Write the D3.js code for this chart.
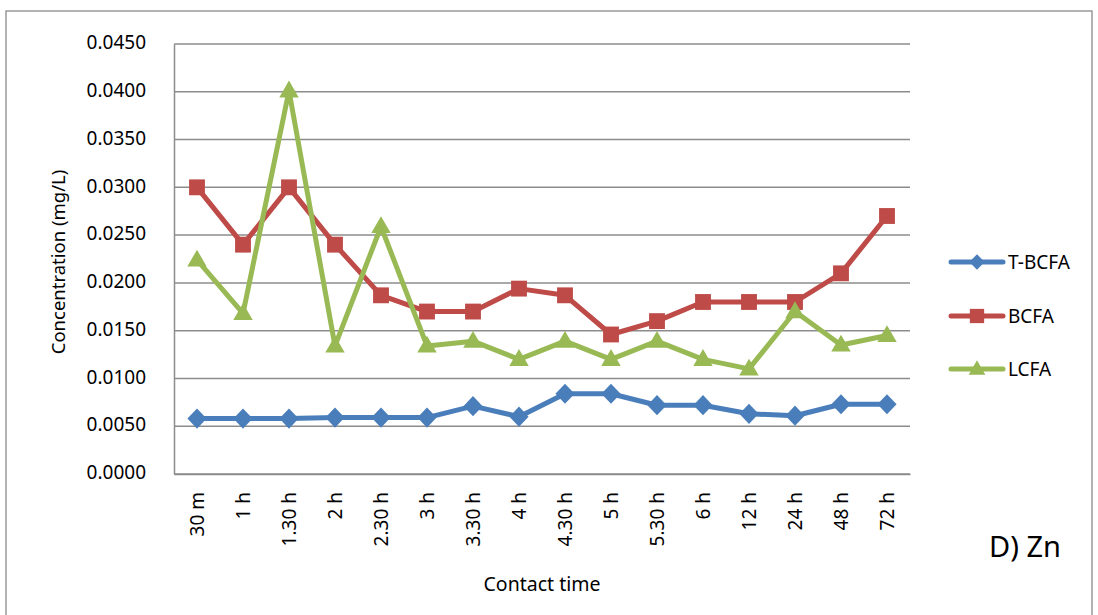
<!DOCTYPE html>
<html>
<head>
<meta charset="utf-8">
<script src="https://cdn.jsdelivr.net/npm/d3@7"></script>
<style>
  html, body { margin: 0; padding: 0; background: #fff; }
  svg { display: block; font-family: "Noto Sans", sans-serif; }
</style>
</head>
<body>
<svg id="chart" width="1098" height="615"></svg>
<script>
const categories = ["30 m","1 h","1.30 h","2 h","2.30 h","3 h","3.30 h","4 h","4.30 h","5 h","5.30 h","6 h","12 h","24 h","48 h","72 h"];
const tbcfa = [0.0058,0.0058,0.0058,0.0059,0.0059,0.0059,0.0071,0.0060,0.0084,0.0084,0.0072,0.0072,0.0063,0.0061,0.0073,0.0073];
const bcfa  = [0.0300,0.0240,0.0300,0.0240,0.0187,0.0170,0.0170,0.0194,0.0187,0.0146,0.0160,0.0180,0.0180,0.0180,0.0210,0.0270];
const lcfa  = [0.0224,0.0168,0.0401,0.0134,0.0259,0.0134,0.0139,0.0120,0.0139,0.0120,0.0139,0.0120,0.0110,0.0170,0.0135,0.0145];
const yTicks = [0,0.005,0.01,0.015,0.02,0.025,0.03,0.035,0.04,0.045];
const seriesNames = ["T-BCFA","BCFA","LCFA"];

const series = [
  {name: seriesNames[0], values: tbcfa, color: "#4A7EBB", shape: "diamond"},
  {name: seriesNames[1], values: bcfa,  color: "#BE4B48", shape: "square"},
  {name: seriesNames[2], values: lcfa,  color: "#98B954", shape: "triangle"}
];

const svg = d3.select("#chart");
const mLeft = 174, mRight = 910, mTop = 44, mBottom = 474;

// outer border
svg.append("rect").attr("x", 6).attr("y", 11).attr("width", 1086).attr("height", 620)
  .attr("fill", "none").attr("stroke", "#8a8a8a").attr("stroke-width", 1.3);

const x = d3.scalePoint().domain(categories).range([mLeft, mRight]).padding(0.5);
const y = d3.scaleLinear().domain([0, 0.045]).range([mBottom, mTop]);

// gridlines
svg.append("g").selectAll("line").data(yTicks).join("line")
  .attr("x1", mLeft).attr("x2", mRight)
  .attr("y1", d => y(d)).attr("y2", d => y(d))
  .attr("stroke", "#8c8c8c").attr("stroke-width", 1.5);

// y axis
const yAxis = svg.append("g").attr("transform", `translate(${mLeft},0)`)
  .call(d3.axisLeft(y).tickValues(yTicks).tickFormat(d3.format(".4f")).tickSize(0).tickPadding(28));
yAxis.select(".domain").attr("stroke", "#8c8c8c").attr("stroke-width", 1.5);
yAxis.selectAll("text").attr("font-size", 19).attr("font-family", "Noto Sans").attr("fill", "#000").attr("dy", "0.25em");

// x axis
const xAxis = svg.append("g").attr("transform", `translate(0,${mBottom})`)
  .call(d3.axisBottom(x).tickSize(0));
xAxis.select(".domain").attr("stroke", "#8c8c8c").attr("stroke-width", 1.5);
xAxis.selectAll("text")
  .attr("font-size", 19).attr("font-family", "Noto Sans").attr("fill", "#000")
  .attr("text-anchor", "end")
  .attr("transform", "rotate(-90)")
  .attr("x", -18).attr("y", 0).attr("dy", "0.35em");

// lines and markers
const line = d3.line().x((d, i) => x(categories[i])).y(d => y(d));
const symbolFor = {
  diamond: d3.symbol().type(d3.symbolDiamond2).size(260),
  square: d3.symbol().type(d3.symbolSquare2).size(320),
  triangle: d3.symbol().type(d3.symbolTriangle2).size(270)
};

series.forEach(s => {
  const g = svg.append("g");
  g.append("path").datum(s.values).attr("d", line)
    .attr("fill", "none").attr("stroke", s.color).attr("stroke-width", 5)
    .attr("stroke-linejoin", "round").attr("stroke-linecap", "round");
  g.selectAll("path.m").data(s.values).join("path").attr("class", "m")
    .attr("d", symbolFor[s.shape])
    .attr("transform", (d, i) => {
      const cx = x(categories[i]), cy = y(d);
      if (s.shape === "diamond") return `translate(${cx},${cy}) scale(0.95,1)`;
      if (s.shape === "triangle") return `translate(${cx},${cy + 1})`;
      return `translate(${cx},${cy})`;
    })
    .attr("fill", s.color);
});

// legend
const legendY = [262, 316, 369];
const lsym = {
  diamond: d3.symbol().type(d3.symbolDiamond2).size(150),
  square: d3.symbol().type(d3.symbolSquare2).size(260),
  triangle: d3.symbol().type(d3.symbolTriangle2).size(200)
};
series.forEach((s, i) => {
  const g = svg.append("g").attr("transform", `translate(0,${legendY[i]})`);
  g.append("line").attr("x1", 951).attr("x2", 1003).attr("y1", 0).attr("y2", 0)
    .attr("stroke", s.color).attr("stroke-width", 5).attr("stroke-linecap", "round");
  g.append("path").attr("d", lsym[s.shape]).attr("transform", `translate(977,${s.shape === "triangle" ? 1 : 0})`).attr("fill", s.color);
  g.append("text").attr("x", 1008).attr("y", 0).attr("dy", "0.35em")
    .attr("font-size", 19).attr("fill", "#000").text(s.name);
});

// axis titles
svg.append("text").attr("transform", "translate(65,262) rotate(-90)")
  .attr("text-anchor", "middle").attr("font-size", 18.5).attr("fill", "#000")
  .text("Concentration (mg/L)");
svg.append("text").attr("x", 542).attr("y", 591)
  .attr("text-anchor", "middle").attr("font-size", 19.5).attr("fill", "#000")
  .text("Contact time");
svg.append("text").attr("x", 989).attr("y", 557)
  .attr("font-size", 29).attr("fill", "#000")
  .text("D) Zn");
</script>
</body>
</html>
